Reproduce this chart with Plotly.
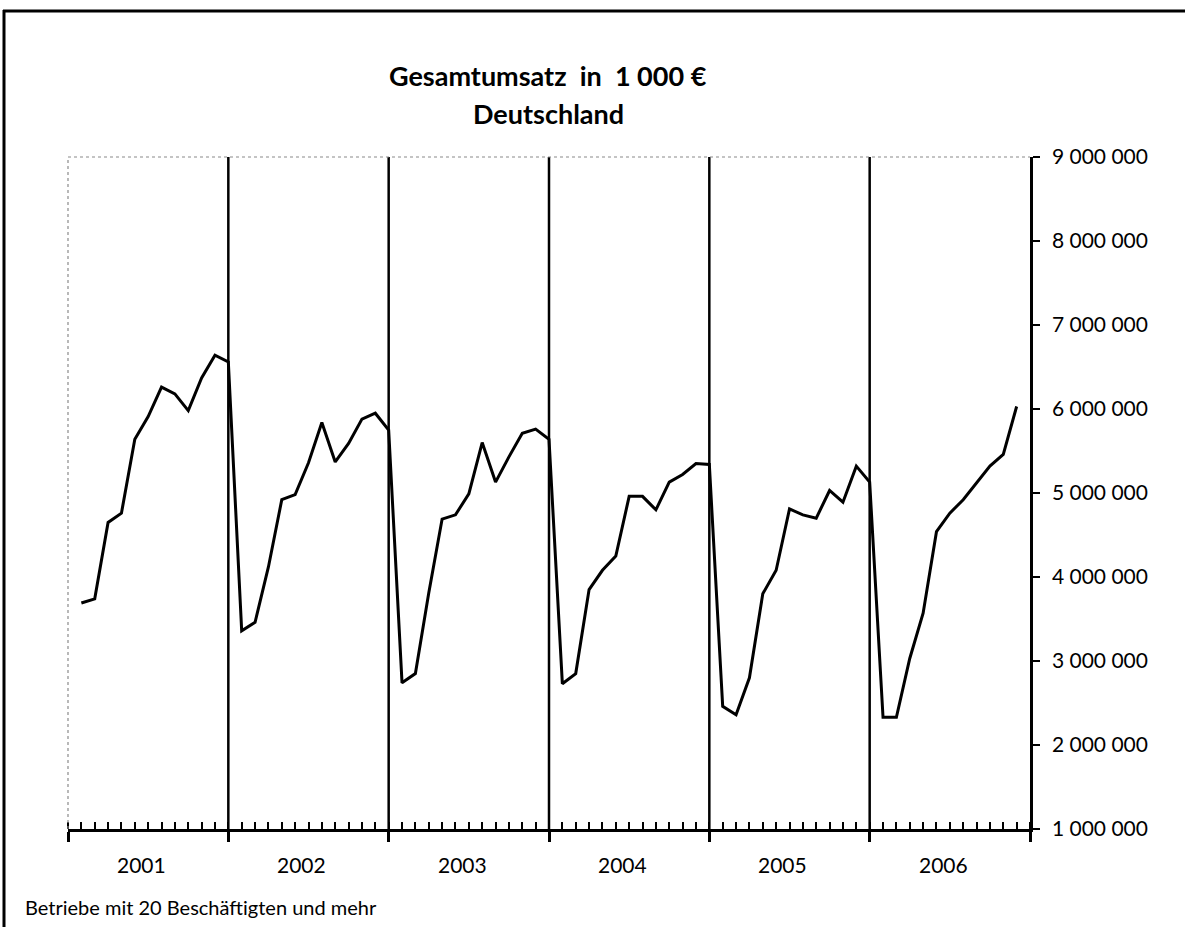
import plotly.graph_objects as go

# ---------------- data (Gesamtumsatz in 1 000 €, monthly) ----------------
years = ["2001", "2002", "2003", "2004", "2005", "2006"]
umsatz_2001 = [3690000, 3740000, 4650000, 4760000, 5640000, 5910000, 6260000, 6180000, 5980000, 6370000, 6640000, 6560000]
umsatz_2002 = [3360000, 3460000, 4120000, 4920000, 4980000, 5360000, 5840000, 5370000, 5590000, 5880000, 5950000, 5750000]
umsatz_2003 = [2740000, 2850000, 3810000, 4690000, 4740000, 4990000, 5600000, 5130000, 5430000, 5710000, 5760000, 5640000]
umsatz_2004 = [2730000, 2850000, 3850000, 4080000, 4250000, 4960000, 4960000, 4800000, 5130000, 5220000, 5350000, 5340000]
umsatz_2005 = [2460000, 2360000, 2800000, 3800000, 4080000, 4810000, 4740000, 4700000, 5030000, 4890000, 5320000, 5130000]
umsatz_2006 = [2330000, 2330000, 3030000, 3570000, 4540000, 4760000, 4920000, 5120000, 5320000, 5460000, 6030000]
series = [umsatz_2001, umsatz_2002, umsatz_2003, umsatz_2004, umsatz_2005, umsatz_2006]
y_ticks = [1000000, 2000000, 3000000, 4000000, 5000000, 6000000, 7000000, 8000000, 9000000]
title_lines = ["Gesamtumsatz\u00a0 in\u00a0 1\u00a0000\u00a0€", "Deutschland"]
footnote = "Betriebe mit 20 Beschäftigten und mehr"
months_per_year = 12

# x positions: month index running over all years (Jan 2001 = 1)
x_vals, y_vals = [], []
for yi, vals in enumerate(series):
    for mi, v in enumerate(vals):
        x_vals.append(yi * months_per_year + mi + 1)
        y_vals.append(v)

# ---------------- layout geometry (pixels) ----------------
W, H = 1185, 927
L, R, T, B = 68, 1030, 157, 829
def px(x):
    return (x - L) / (R - L)
def py(y):
    return (B - y) / (B - T)

FONT = "Lato"
x_max = months_per_year * len(years)

fig = go.Figure()
fig.add_trace(go.Scatter(
    x=x_vals, y=y_vals, mode="lines",
    line=dict(color="black", width=3),
    showlegend=False, hoverinfo="skip",
))

shapes = []
# year separators
for k in range(1, len(years)):
    shapes.append(dict(type="line", xref="x", yref="paper",
                       x0=k * months_per_year, x1=k * months_per_year, y0=0, y1=1,
                       line=dict(color="black", width=2.5)))
# plot-area dotted border (top and left)
shapes.append(dict(type="line", xref="paper", yref="paper", x0=0, x1=1, y0=1, y1=1,
                   line=dict(color="#8a8a8a", width=1.2, dash="dot")))
shapes.append(dict(type="line", xref="paper", yref="paper", x0=0, x1=0, y0=0, y1=1,
                   line=dict(color="#8a8a8a", width=1.2, dash="dot")))
# outer frame (top and left)
shapes.append(dict(type="line", xref="paper", yref="paper", x0=px(3), x1=px(1185), y0=py(11), y1=py(11),
                   line=dict(color="black", width=3)))
shapes.append(dict(type="line", xref="paper", yref="paper", x0=px(4), x1=px(4), y0=py(10), y1=py(927),
                   line=dict(color="black", width=3)))

annotations = []
annotations.append(dict(text="<b>" + title_lines[0] + "</b>", xref="paper", yref="paper",
                        x=px(548), y=py(75), xanchor="center", yanchor="middle", showarrow=False,
                        font=dict(family=FONT, size=27, color="black")))
annotations.append(dict(text="<b>" + title_lines[1] + "</b>", xref="paper", yref="paper",
                        x=px(548), y=py(113), xanchor="center", yanchor="middle", showarrow=False,
                        font=dict(family=FONT, size=27, color="black")))
for i, yr in enumerate(years):
    annotations.append(dict(text=yr, xref="x", yref="paper",
                            x=i * months_per_year + months_per_year / 2 - 0.5, y=py(864),
                            xanchor="center", yanchor="middle", showarrow=False,
                            font=dict(family=FONT, size=21, color="black")))
annotations.append(dict(text=footnote, xref="paper", yref="paper",
                        x=px(23), y=py(907), xanchor="left", yanchor="middle", showarrow=False,
                        font=dict(family=FONT, size=20, color="black")))

fig.update_layout(
    width=W, height=H,
    margin=dict(l=L, r=W - R, t=T, b=H - B, pad=0),
    paper_bgcolor="white", plot_bgcolor="white",
    separators=", ",
    font=dict(family=FONT, size=21, color="black"),
    shapes=shapes, annotations=annotations,
    xaxis=dict(
        range=[0, x_max], showgrid=False, zeroline=False,
        showline=True, linecolor="black", linewidth=2.5,
        tickmode="array", tickvals=[k * months_per_year for k in range(len(years) + 1)],
        ticks="outside", ticklen=10, tickwidth=2.5, tickcolor="black",
        showticklabels=False,
        minor=dict(ticks="inside", tick0=0, dtick=1, ticklen=7, tickwidth=2, tickcolor="black", showgrid=False),
    ),
    yaxis=dict(
        range=[y_ticks[0], y_ticks[-1]], side="right",
        showgrid=False, zeroline=False,
        showline=True, linecolor="black", linewidth=2.5,
        tickmode="array", tickvals=y_ticks, tickformat=",d",
        ticks="outside", ticklen=7, tickwidth=2, tickcolor="black",
        ticklabelstandoff=8,
        tickfont=dict(family=FONT, size=21, color="black"),
    ),
)

fig.write_html("out.html", config={"displayModeBar": False},
               post_script="document.body.style.margin='0';")
